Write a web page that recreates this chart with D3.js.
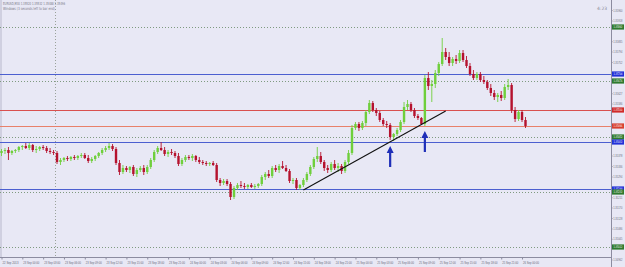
<!DOCTYPE html>
<html>
<head>
<meta charset="utf-8">
<script src="https://cdn.jsdelivr.net/npm/d3@7"></script>
<style>
  body { margin: 0; background: #e8e8f5; }
  svg { display: block; font-family: "DejaVu Sans", sans-serif; }
</style>
</head>
<body>
<div id="chart"></div>
<script>
// EURUSD M30 bars
var opens = [1.35388,1.35396,1.35400,1.35388,1.35396,1.35400,1.35412,1.35416,1.35408,1.35420,
  1.35400,1.35404,1.35412,1.35408,1.35396,1.35392,1.35388,1.35352,1.35360,1.35368,
  1.35364,1.35372,1.35368,1.35376,1.35380,1.35368,1.35356,1.35364,1.35376,1.35388,
  1.35400,1.35408,1.35416,1.35404,1.35348,1.35312,1.35328,1.35320,1.35332,1.35304,
  1.35320,1.35328,1.35312,1.35332,1.35360,1.35392,1.35408,1.35400,1.35384,1.35392,
  1.35388,1.35376,1.35344,1.35360,1.35372,1.35368,1.35376,1.35360,1.35352,1.35348,
  1.35344,1.35348,1.35340,1.35280,1.35268,1.35276,1.35264,1.35212,1.35248,1.35260,
  1.35256,1.35252,1.35260,1.35252,1.35256,1.35264,1.35292,1.35304,1.35296,1.35328,
  1.35320,1.35336,1.35328,1.35316,1.35276,1.35280,1.35248,1.35260,1.35280,1.35304,
  1.35332,1.35364,1.35376,1.35352,1.35328,1.35320,1.35344,1.35328,1.35336,1.35316,
  1.35352,1.35388,1.35488,1.35504,1.35488,1.35508,1.35552,1.35588,1.35560,1.35548,
  1.35520,1.35504,1.35500,1.35452,1.35464,1.35480,1.35512,1.35572,1.35584,1.35560,
  1.35536,1.35528,1.35504,1.35688,1.35656,1.35664,1.35708,1.35744,1.35792,1.35772,
  1.35748,1.35764,1.35756,1.35788,1.35760,1.35736,1.35704,1.35688,1.35704,1.35680,
  1.35672,1.35648,1.35628,1.35612,1.35620,1.35608,1.35652,1.35660,1.35560,1.35524,
  1.35552,1.35520];
var highs = [1.35404,1.35408,1.35412,1.35400,1.35404,1.35416,1.35420,1.35428,1.35428,1.35424,
  1.35416,1.35416,1.35420,1.35416,1.35408,1.35400,1.35396,1.35368,1.35372,1.35376,
  1.35376,1.35380,1.35380,1.35388,1.35388,1.35380,1.35372,1.35380,1.35392,1.35408,
  1.35416,1.35428,1.35424,1.35412,1.35360,1.35340,1.35336,1.35336,1.35340,1.35328,
  1.35336,1.35340,1.35340,1.35368,1.35400,1.35416,1.35432,1.35412,1.35400,1.35404,
  1.35396,1.35388,1.35368,1.35380,1.35380,1.35384,1.35380,1.35372,1.35360,1.35356,
  1.35352,1.35356,1.35348,1.35288,1.35284,1.35284,1.35272,1.35256,1.35268,1.35276,
  1.35268,1.35264,1.35268,1.35264,1.35268,1.35300,1.35312,1.35320,1.35336,1.35340,
  1.35344,1.35356,1.35340,1.35324,1.35288,1.35288,1.35264,1.35288,1.35312,1.35340,
  1.35372,1.35412,1.35392,1.35360,1.35340,1.35352,1.35360,1.35348,1.35344,1.35360,
  1.35400,1.35500,1.35512,1.35512,1.35516,1.35560,1.35600,1.35596,1.35568,1.35556,
  1.35528,1.35516,1.35508,1.35468,1.35488,1.35520,1.35592,1.35600,1.35592,1.35568,
  1.35544,1.35532,1.35700,1.35712,1.35680,1.35720,1.35752,1.35848,1.35808,1.35792,
  1.35772,1.35780,1.35800,1.35800,1.35776,1.35748,1.35720,1.35712,1.35712,1.35696,
  1.35680,1.35664,1.35640,1.35628,1.35636,1.35664,1.35684,1.35668,1.35572,1.35560,
  1.35560,1.35532];
var lows = [1.35376,1.35384,1.35360,1.35380,1.35388,1.35392,1.35400,1.35404,1.35400,1.35392,
  1.35388,1.35396,1.35400,1.35388,1.35384,1.35380,1.35344,1.35340,1.35352,1.35356,
  1.35356,1.35360,1.35360,1.35368,1.35364,1.35348,1.35348,1.35356,1.35368,1.35380,
  1.35392,1.35400,1.35396,1.35340,1.35300,1.35304,1.35312,1.35308,1.35296,1.35292,
  1.35312,1.35300,1.35304,1.35324,1.35352,1.35384,1.35396,1.35376,1.35372,1.35380,
  1.35368,1.35336,1.35336,1.35352,1.35360,1.35356,1.35352,1.35344,1.35340,1.35336,
  1.35336,1.35336,1.35272,1.35256,1.35260,1.35256,1.35200,1.35204,1.35240,1.35248,
  1.35244,1.35244,1.35248,1.35244,1.35248,1.35256,1.35280,1.35288,1.35288,1.35312,
  1.35308,1.35324,1.35312,1.35268,1.35264,1.35240,1.35240,1.35252,1.35272,1.35296,
  1.35324,1.35352,1.35344,1.35316,1.35308,1.35312,1.35320,1.35312,1.35304,1.35308,
  1.35344,1.35380,1.35480,1.35476,1.35480,1.35496,1.35544,1.35552,1.35536,1.35512,
  1.35496,1.35488,1.35440,1.35436,1.35456,1.35472,1.35504,1.35560,1.35552,1.35528,
  1.35520,1.35500,1.35496,1.35640,1.35592,1.35648,1.35696,1.35736,1.35760,1.35736,
  1.35736,1.35744,1.35748,1.35752,1.35728,1.35696,1.35680,1.35680,1.35672,1.35664,
  1.35640,1.35616,1.35600,1.35592,1.35596,1.35600,1.35640,1.35548,1.35512,1.35516,
  1.35512,1.35488];
var closes = [1.35396,1.35400,1.35388,1.35396,1.35400,1.35412,1.35416,1.35408,1.35420,1.35400,
  1.35404,1.35412,1.35408,1.35396,1.35392,1.35388,1.35352,1.35360,1.35368,1.35364,
  1.35372,1.35368,1.35376,1.35380,1.35368,1.35356,1.35364,1.35376,1.35388,1.35400,
  1.35408,1.35416,1.35404,1.35348,1.35312,1.35328,1.35320,1.35332,1.35304,1.35320,
  1.35328,1.35312,1.35332,1.35360,1.35392,1.35408,1.35400,1.35384,1.35392,1.35388,
  1.35376,1.35344,1.35360,1.35372,1.35368,1.35376,1.35360,1.35352,1.35348,1.35344,
  1.35348,1.35340,1.35280,1.35268,1.35276,1.35264,1.35212,1.35248,1.35260,1.35256,
  1.35252,1.35260,1.35252,1.35256,1.35264,1.35292,1.35304,1.35296,1.35328,1.35320,
  1.35336,1.35328,1.35316,1.35276,1.35280,1.35248,1.35260,1.35280,1.35304,1.35332,
  1.35364,1.35376,1.35352,1.35328,1.35320,1.35344,1.35328,1.35336,1.35316,1.35352,
  1.35388,1.35488,1.35504,1.35488,1.35508,1.35552,1.35588,1.35560,1.35548,1.35520,
  1.35504,1.35500,1.35452,1.35464,1.35480,1.35512,1.35572,1.35584,1.35560,1.35536,
  1.35528,1.35504,1.35688,1.35656,1.35664,1.35708,1.35744,1.35792,1.35772,1.35748,
  1.35764,1.35756,1.35788,1.35760,1.35736,1.35704,1.35688,1.35704,1.35680,1.35672,
  1.35648,1.35628,1.35612,1.35620,1.35608,1.35652,1.35660,1.35560,1.35524,1.35552,
  1.35520,1.35496];

// price axis tick labels
var priceTicks = [1.35960,1.35918,1.35877,1.35835,1.35794,1.35752,1.35710,1.35669,1.35627,
  1.35586,1.35544,1.35502,1.35461,1.35419,1.35378,1.35336,1.35294,1.35253,1.35211,
  1.35170,1.35128,1.35086,1.35045,1.35003,1.34962];

// time axis labels: [bar index, text]
var timeTicks = [[0,"22 Sep 2013"],[6,"23 Sep 00:00"],[12,"23 Sep 03:00"],[18,"23 Sep 06:00"],
  [24,"23 Sep 09:00"],[30,"23 Sep 12:00"],[36,"23 Sep 15:00"],[42,"23 Sep 18:00"],
  [48,"23 Sep 21:00"],[54,"24 Sep 00:00"],[60,"24 Sep 03:00"],[66,"24 Sep 06:00"],
  [72,"24 Sep 09:00"],[78,"24 Sep 12:00"],[84,"24 Sep 15:00"],[90,"24 Sep 18:00"],
  [96,"24 Sep 21:00"],[102,"25 Sep 00:00"],[108,"25 Sep 03:00"],[114,"25 Sep 06:00"],
  [120,"25 Sep 09:00"],[126,"25 Sep 12:00"],[132,"25 Sep 15:00"],[138,"25 Sep 18:00"],
  [144,"25 Sep 21:00"],[150,"26 Sep 00:00"]];

// horizontal levels drawn on the chart
var levelPrices = [1.35892, 1.35704, 1.35676, 1.35560, 1.35496, 1.35452, 1.35432, 1.35244, 1.35232, 1.35012];
var levelKinds  = ["dot", "blue", "dot", "red", "bid", "dot", "blue", "blue", "dot", "dot"];

// trend line [bar, price] and arrows [bar, price of tip]
var trendLine = [[87, 1.35240], [128, 1.35556]];
var arrows = [[112, 1.35416], [122, 1.35476]];

var W = 625, H = 267, plotRight = 611, plotBottom = 257;

var svg = d3.select("#chart").append("svg")
  .attr("width", W).attr("height", H);

svg.append("rect").attr("width", W).attr("height", H).attr("fill", "#e8e8f5");

var x = d3.scaleLinear().domain([0, 151]).range([1.5, 525.5]);
var y = d3.scaleLinear().domain([1.34972, 1.36000]).range([plotBottom, 0]);

var kindColor = {dot: "#7f9a80", blue: "#4c5fd0", red: "#d9504f", bid: "#e8806a"};
var boxColor = {dot: "#2f7a2f", blue: "#2230d8", red: "#d02a2a", bid: "#d84030"};

// vertical line object
svg.append("line")
  .attr("x1", 55.5).attr("x2", 55.5).attr("y1", 0).attr("y2", plotBottom)
  .attr("stroke", "#9aa29a").attr("stroke-dasharray", "1,2");

// left border
svg.append("line")
  .attr("x1", 1).attr("x2", 1).attr("y1", 0).attr("y2", plotBottom)
  .attr("stroke", "#b8b8cc");

// level lines
var levels = levelPrices.map(function(p, i) { return {p: p, k: levelKinds[i]}; });
svg.append("g").selectAll("line").data(levels).enter().append("line")
  .attr("x1", 0).attr("x2", plotRight)
  .attr("y1", function(d) { return Math.round(y(d.p)) + 0.5; })
  .attr("y2", function(d) { return Math.round(y(d.p)) + 0.5; })
  .attr("stroke", function(d) { return kindColor[d.k]; })
  .attr("stroke-width", 1)
  .attr("stroke-dasharray", function(d) { return d.k == "dot" ? "1,2" : null; });

// candles
var bars = opens.map(function(o, i) {
  return {i: i, o: o, h: highs[i], l: lows[i], c: closes[i]};
});
var up = "#6fcf3c", down = "#b5122e";
var g = svg.append("g");
g.selectAll(".wick").data(bars).enter().append("line")
  .attr("x1", function(d) { return x(d.i); })
  .attr("x2", function(d) { return x(d.i); })
  .attr("y1", function(d) { return y(d.h); })
  .attr("y2", function(d) { return y(d.l); })
  .attr("stroke", function(d) { return d.c >= d.o ? up : down; })
  .attr("stroke-width", 0.9);
g.selectAll(".body").data(bars).enter().append("rect")
  .attr("x", function(d) { return x(d.i) - 1.2; })
  .attr("width", 2.4)
  .attr("y", function(d) { return y(Math.max(d.o, d.c)); })
  .attr("height", function(d) { return Math.max(0.8, Math.abs(y(d.o) - y(d.c))); })
  .attr("fill", function(d) { return d.c >= d.o ? up : down; });

// trend line
svg.append("line")
  .attr("x1", x(trendLine[0][0])).attr("y1", y(trendLine[0][1]))
  .attr("x2", x(trendLine[1][0])).attr("y2", y(trendLine[1][1]))
  .attr("stroke", "#111").attr("stroke-width", 1.1);

// blue up arrows
svg.append("g").selectAll("path").data(arrows).enter().append("path")
  .attr("transform", function(d) { return "translate(" + x(d[0]) + "," + y(d[1]) + ")"; })
  .attr("d", "M0,0 L3.5,7 L1.1,7 L1.1,21 L-1.1,21 L-1.1,7 L-3.5,7 Z")
  .attr("fill", "#1f2fb8");

// right price axis
svg.append("rect").attr("x", plotRight).attr("y", 0).attr("width", W - plotRight).attr("height", H)
  .attr("fill", "#e8e8f5");
// skip tick labels that sit under a level box
var shownTicks = priceTicks.filter(function(t) {
  return !levels.some(function(l) { return Math.abs(y(l.p) - y(t)) < 5; });
});
var yAxis = svg.append("g")
  .attr("transform", "translate(" + (plotRight + 0.5) + ",0)")
  .call(d3.axisRight(y).tickValues(shownTicks).tickSize(1).tickPadding(0.8)
    .tickFormat(d3.format(".5f")));
yAxis.select(".domain").attr("stroke", "#8c8ca0").attr("d", "M0,0V" + H);
yAxis.selectAll("line").attr("stroke", "#8c8ca0");
yAxis.selectAll("text").attr("font-size", "3.6px").attr("fill", "#6a6a7a")
  .attr("textLength", 9).attr("lengthAdjust", "spacingAndGlyphs");

// level price boxes
var boxes = svg.append("g").selectAll("g").data(levels).enter().append("g")
  .attr("transform", function(d) { return "translate(" + (plotRight + 1) + "," + Math.round(y(d.p)) + ")"; });
boxes.append("rect").attr("x", 0).attr("y", -2.6).attr("width", 12).attr("height", 5.2)
  .attr("fill", function(d) { return boxColor[d.k]; });
boxes.append("text").attr("x", 1.5).attr("y", 1.2).attr("font-size", "3.3px").attr("fill", "#fff")
  .attr("textLength", 9).attr("lengthAdjust", "spacingAndGlyphs")
  .text(function(d) { return d3.format(".5f")(d.p); });

// bottom time axis
var xAxis = svg.append("g")
  .attr("transform", "translate(0," + (plotBottom + 0.5) + ")")
  .call(d3.axisBottom(x).tickValues(timeTicks.map(function(t) { return t[0]; }))
    .tickSize(2).tickPadding(1.5)
    .tickFormat(function(v) { return timeTicks.find(function(t) { return t[0] == v; })[1]; }));
xAxis.select(".domain").attr("stroke", "#8c8ca0").attr("d", "M0,0H" + plotRight);
xAxis.selectAll("line").attr("stroke", "#8c8ca0");
xAxis.selectAll("text").attr("font-size", "3.8px").attr("fill", "#6a6a7a")
  .attr("text-anchor", "start").attr("dx", "0.5")
  .attr("textLength", 16).attr("lengthAdjust", "spacingAndGlyphs");

// header text
svg.append("text").attr("x", 3).attr("y", 4.5).attr("font-size", "4px").attr("fill", "#7a7a88")
  .attr("textLength", 62).attr("lengthAdjust", "spacingAndGlyphs")
  .text("EURUSD,M30  1.35520 1.35532 1.35488 1.35496");
svg.append("text").attr("x", 3).attr("y", 9.5).attr("font-size", "4px").attr("fill", "#7a7a88")
  .attr("textLength", 52).attr("lengthAdjust", "spacingAndGlyphs")
  .text("Windows (3 seconds left to bar end)");
svg.append("text").attr("x", 597).attr("y", 10).attr("font-size", "4.5px").attr("fill", "#8a8a98")
  .text("4:23");
</script>
</body>
</html>
